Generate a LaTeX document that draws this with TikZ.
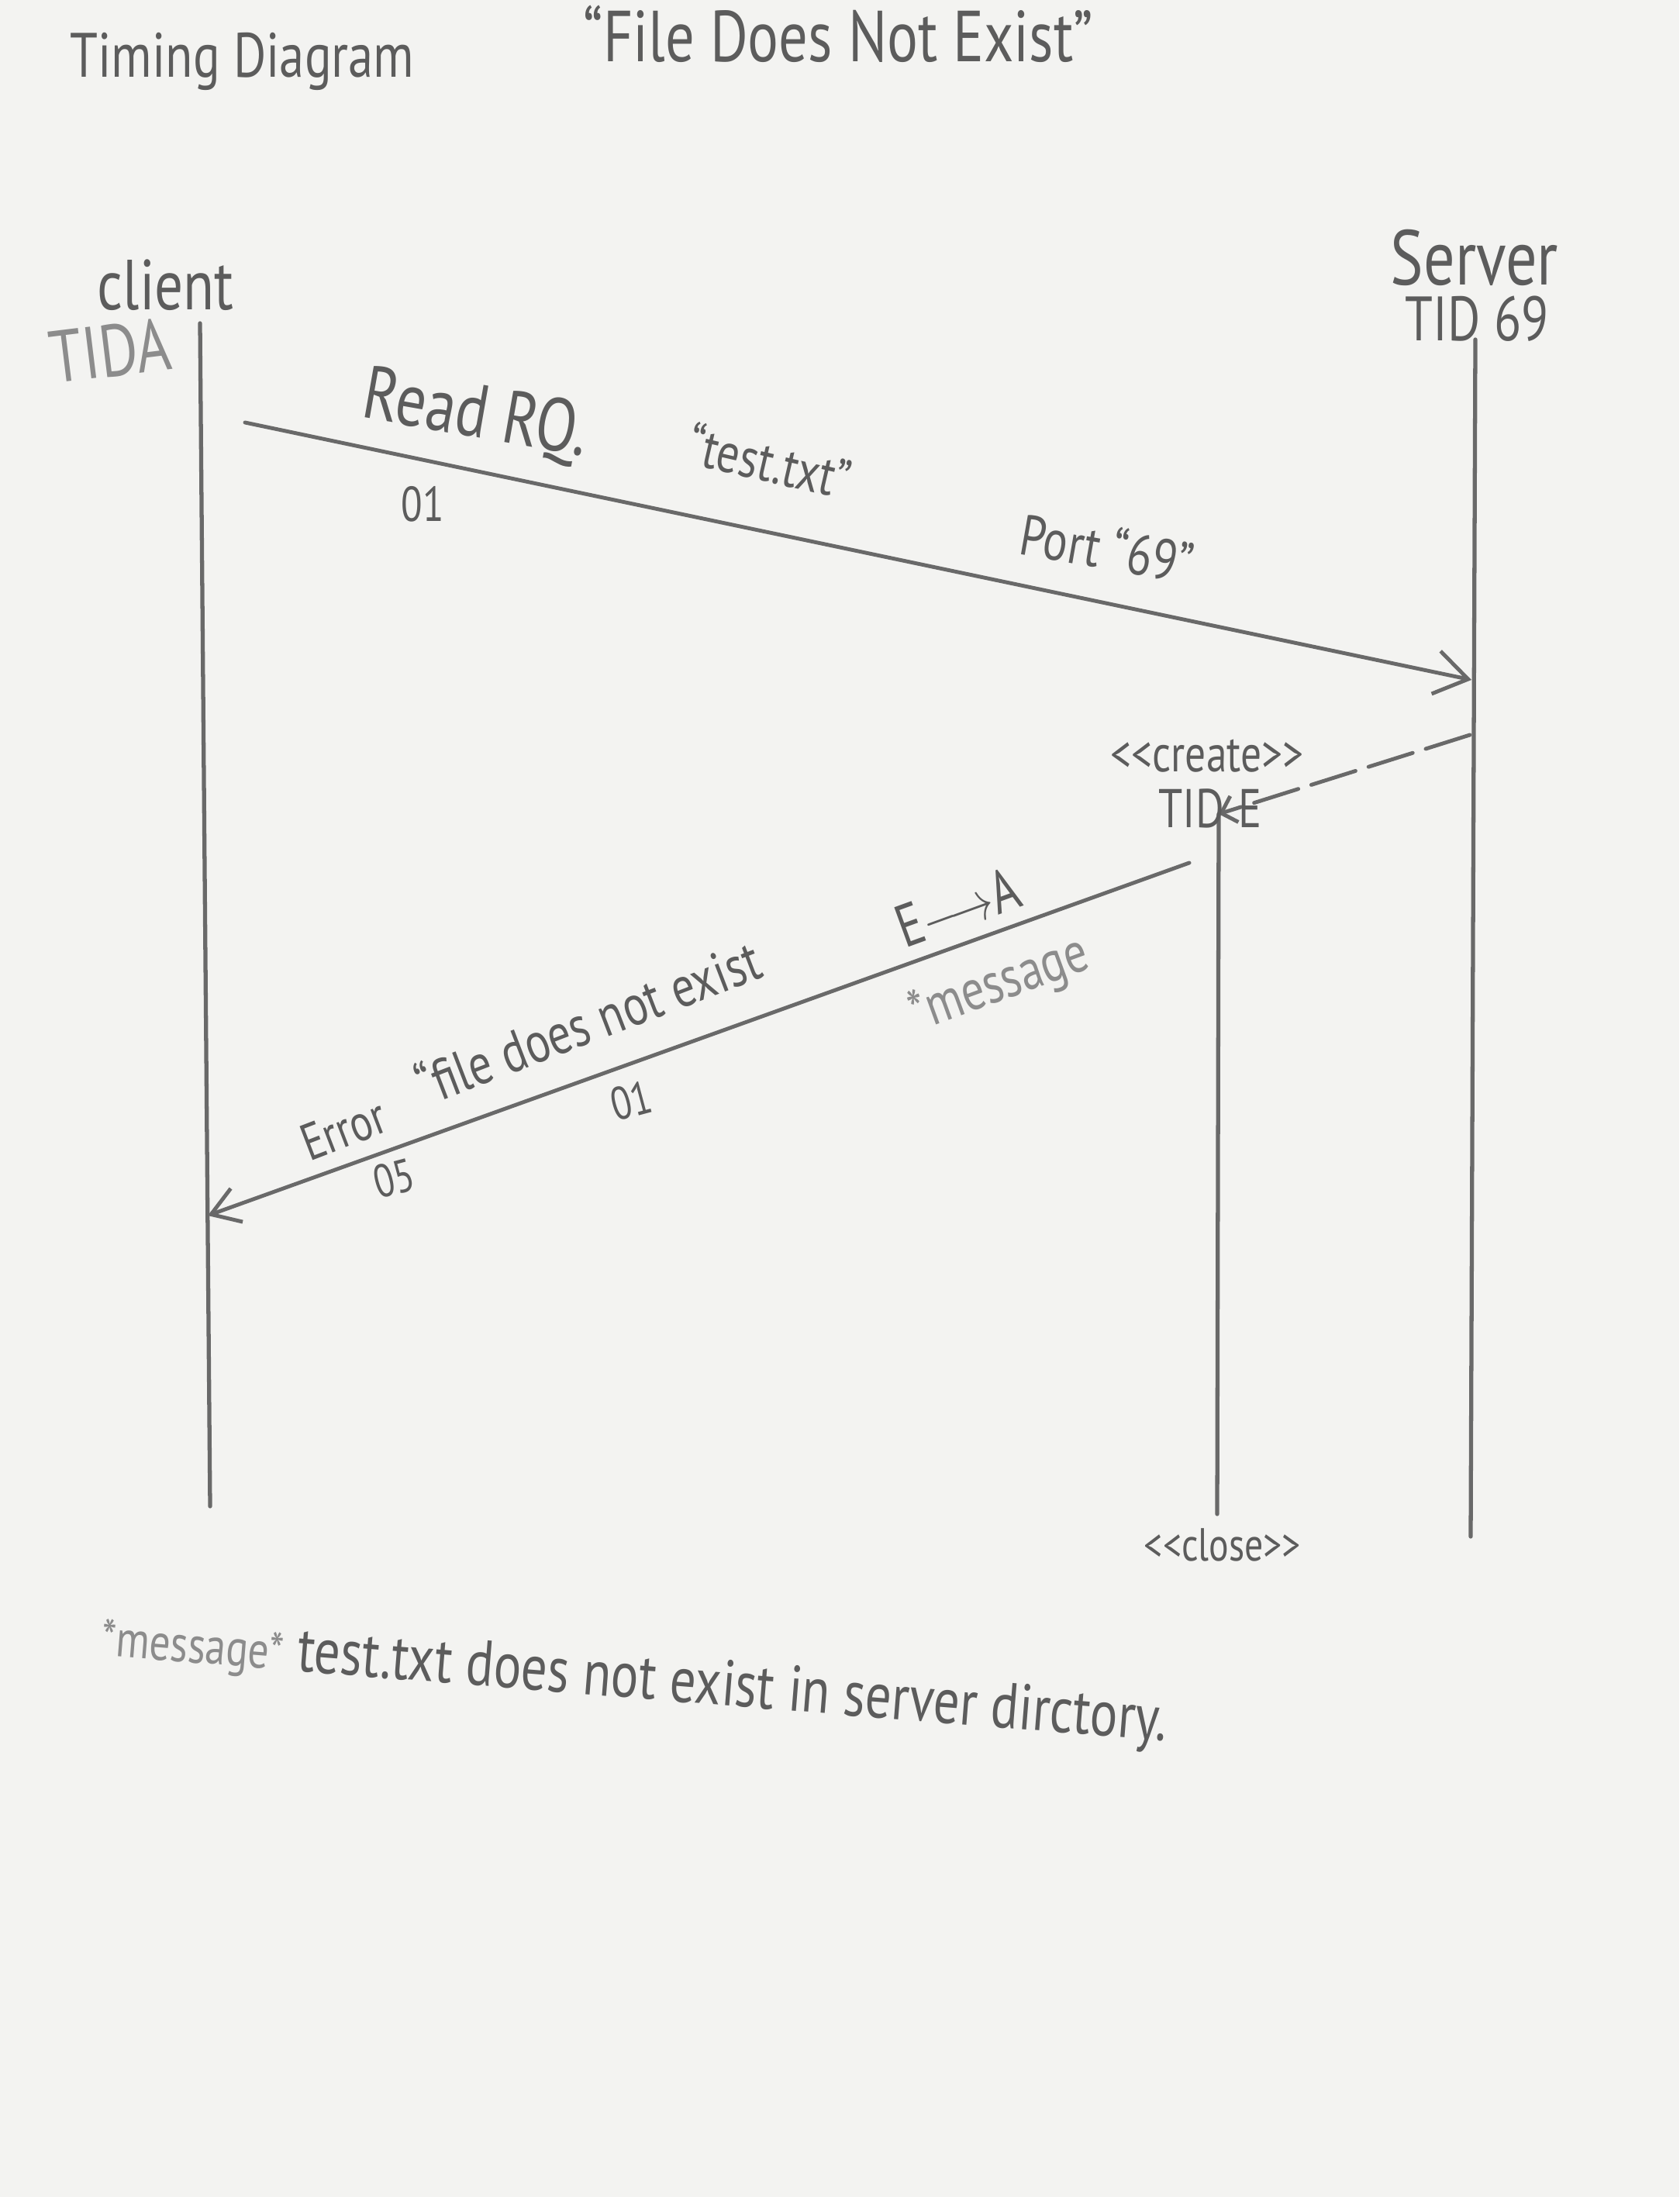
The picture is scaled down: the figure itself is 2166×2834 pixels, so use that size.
\documentclass[tikz,border=0pt]{standalone}
\usepackage{fontspec}
\usepackage{graphicx}
\setmainfont{PT Sans}
\newfontfamily\hwfont{PT Sans}
\usetikzlibrary{arrows.meta}
\definecolor{paper}{RGB}{243,243,241}
\definecolor{ink}{RGB}{92,92,92}
\definecolor{inklight}{RGB}{140,140,140}
\definecolor{pencil}{RGB}{105,105,105}
\newcommand{\hws}[1]{\scalebox{0.8}[1]{#1}}
\begin{document}
\begin{tikzpicture}[x=0.01cm,y=-0.01cm,
  hw/.style={font=\hwfont\fontsize{#1}{#1}\selectfont, text=ink, inner sep=0pt},
  faint/.style={text=inklight},
  lifeline/.style={draw=pencil, line width=1.5pt, line cap=round},
  msg/.style={draw=pencil, line width=1.4pt, line cap=round}]
\fill[paper] (0,0) rectangle (2166,2834);
\useasboundingbox (0,0) rectangle (2166,2834);

% headings
\node[hw=23, anchor=base west] (ttl) at (90,100) {\hws{Timing Diagram}};
\node[hw=26.5, anchor=base west] (title) at (752,80) {\hws{“File Does Not Exist”}};

% participants
\node[hw=26, anchor=base west] (client) at (125,400) {\hws{client}};
\node[hw=27, anchor=base west, faint, rotate=7] (tida) at (68,495) {\hws{TIDA}};
\node[hw=28.5, anchor=base west] (server) at (1793,368) {\hws{Server}};
\node[hw=23, anchor=base west] (tid69) at (1812,440) {\hws{TID 69}};

% lifelines
\coordinate (cT) at (258,417); \coordinate (cB) at (271,1943);
\coordinate (sT) at (1903,438); \coordinate (sB) at (1897,1982);
\coordinate (eT) at (1572,1050); \coordinate (eB) at (1570,1953);
\draw[lifeline] (cT) -- (cB);
\draw[lifeline] (sT) -- (sB);
\draw[lifeline] (eT) -- (eB);

% read request
\coordinate (rqA) at (316,545); \coordinate (rqB) at (1898,877);
\draw[msg, -{Straight Barb[length=12pt,width=16pt]}] (rqA) -- (rqB);
\node[hw=27.5, rotate=-10] (readrq) at (613,538) {\hws{Read RQ.}};
\node[hw=18] (rq01) at (545,650) {\hws{01}};
\node[hw=20.5, rotate=-13] (testtxt) at (993,594) {\hws{“test.txt”}};
\node[hw=21, rotate=-10] (port) at (1428,706) {\hws{Port “69”}};

% create temporary TID
\coordinate (sCr) at (1896,948);
\draw[msg, dash pattern=on 17pt off 5pt, -{Straight Barb[length=5pt,width=10pt]}] (sCr) -- (eT);
\node[hw=19] (create) at (1557,975) {\hws{<{}<create>{}>}};
\node[hw=20, anchor=west] (tide) at (1494,1043) {\hws{TID\,\,E}};

% error
\coordinate (erA) at (1534,1113); \coordinate (erB) at (268,1568);
\draw[msg, -{Straight Barb[length=10pt,width=13pt]}] (erA) -- (erB);
\node[hw=19, rotate=21] (error) at (443,1457) {\hws{Error}};
\node[hw=21, rotate=21] (fdne) at (758,1317) {\hws{“file does not exist}};
\node[hw=17, rotate=15] (er05) at (508,1520) {\hws{05}};
\node[hw=17, rotate=15] (er01) at (814,1420) {\hws{01}};
\node[hw=22, rotate=20] (eta) at (1235,1170) {\hws{E$\longrightarrow$A}};
\node[hw=21, rotate=20, faint] (msgstar) at (1290,1272) {\hws{*message}};

% close
\node[hw=17] (close) at (1577,1993) {\hws{<{}<close>{}>}};

% note
\node[hw=23.7, anchor=base west, rotate=-4.6] (note) at (129,2135) {\hws{{\fontsize{19}{19}\selectfont\color{inklight}*message*}\ test.txt does not exist in server dirctory.}};
\end{tikzpicture}
\end{document}
